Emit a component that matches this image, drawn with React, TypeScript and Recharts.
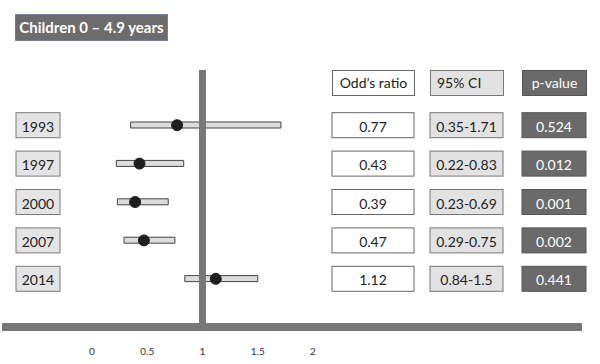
import { ComposedChart, Bar, Line, XAxis, YAxis, ReferenceLine } from 'recharts'

const years = ['1993', '1997', '2000', '2007', '2014']
const oddsRatios = [0.77, 0.43, 0.39, 0.47, 1.12]
const ciLow = [0.35, 0.22, 0.23, 0.29, 0.84]
const ciHigh = [1.71, 0.83, 0.69, 0.75, 1.5]
const pValues = [0.524, 0.012, 0.001, 0.002, 0.441]
const xTicks = [0, 0.5, 1, 1.5, 2]
const headers = ['Odd\u2019s ratio', '95% CI', 'p-value']
const title = 'Children 0 \u2013 4.9 years'

const data = years.map((year, i) => ({
  year,
  or: oddsRatios[i],
  ci: [ciLow[i], ciHigh[i]],
}))

const FONT = 'Lato, "Open Sans", sans-serif'

// table columns: left edge, width, fill, stroke, text colour
const cols = [
  { x: 332, w: 82, fill: '#ffffff', stroke: '#666', color: '#222' },
  { x: 430, w: 73, fill: '#e2e2e2', stroke: '#777', color: '#222' },
  { x: 522, w: 64, fill: '#6a6a6a', stroke: '#555', color: '#fff' },
]

function YearTick({ y, payload }: any) {
  return (
    <g>
      <rect x={16} y={y - 12.5} width={44} height={25} fill="#e4e4e4" stroke="#7a7a7a" />
      <text x={38} y={y + 1} textAnchor="middle" dominantBaseline="central" fontSize={14} fill="#222" fontFamily={FONT}>
        {payload.value}
      </text>
    </g>
  )
}

function TableTick({ y, index }: any) {
  const cells = [String(oddsRatios[index]), `${ciLow[index]}-${ciHigh[index]}`, String(pValues[index])]
  return (
    <g>
      {cols.map((c, k) => (
        <g key={k}>
          <rect x={c.x} y={y - 12.5} width={c.w} height={25} fill={c.fill} stroke={c.stroke} />
          <text x={c.x + c.w / 2} y={y + 1} textAnchor="middle" dominantBaseline="central" fontSize={14} fill={c.color} fontFamily={FONT}>
            {cells[k]}
          </text>
        </g>
      ))}
    </g>
  )
}

function XTick({ x, y, payload }: any) {
  return (
    <text x={x} y={y + 21} textAnchor="middle" fontSize={10} style={{ fill: '#333' }} fontFamily={FONT}>
      {payload.value}
    </text>
  )
}

export default function App() {
  return (
    <div style={{ position: 'absolute', left: 0, top: 0, width: 600, height: 364, background: '#fff', fontFamily: FONT }}>
      {/* title */}
      <div
        style={{
          position: 'absolute', left: 15, top: 14, width: 151, height: 25,
          background: '#6c6c6c', border: '1px solid #6b7fb8', color: '#fff',
          fontWeight: 700, fontSize: 15, lineHeight: '25px', textAlign: 'center',
        }}
      >
        {title}
      </div>

      {/* header row */}
      {headers.map((h, k) => (
        <div
          key={h}
          style={{
            position: 'absolute', left: cols[k].x, top: 70, width: cols[k].w - 1 - (k === 1 ? 6 : 0), height: 24,
            background: cols[k].fill, border: `1px solid ${cols[k].stroke}`, color: cols[k].color,
            fontSize: 14, lineHeight: '24px', textAlign: k === 1 ? 'left' : 'center',
            paddingLeft: k === 1 ? 6 : 0, boxSizing: 'content-box',
          }}
        >
          {h}
        </div>
      ))}

      {/* baseline */}
      <div style={{ position: 'absolute', left: 2, top: 323, width: 580, height: 8, background: '#777' }} />

      <div style={{ position: 'absolute', left: 0, top: 0 }}>
        <ComposedChart
          width={600}
          height={364}
          data={data}
          layout="vertical"
          margin={{ top: 70, right: 0, bottom: 8, left: 0 }}
        >
          <XAxis
            type="number"
            domain={[0, 2]}
            ticks={xTicks}
            axisLine={false}
            tickLine={false}
            height={30}
            tick={<XTick />}
            interval={0}
          />
          <YAxis
            yAxisId={0}
            type="category"
            dataKey="year"
            width={92}
            axisLine={false}
            tickLine={false}
            padding={{ top: 36, bottom: 28 }}
            tick={<YearTick />}
            interval={0}
          />
          <YAxis
            yAxisId={1}
            orientation="right"
            type="category"
            dataKey="year"
            width={287}
            axisLine={false}
            tickLine={false}
            padding={{ top: 36, bottom: 28 }}
            tick={<TableTick />}
            interval={0}
          />
          <Bar dataKey="ci" yAxisId={0} barSize={6} fill="#dcdcdc" stroke="#444" strokeWidth={1} isAnimationActive={false} />
          <ReferenceLine x={1} yAxisId={0} stroke="#777" strokeWidth={7} />
          <Line
            dataKey="or"
            yAxisId={0}
            stroke="none"
            dot={{ r: 5.5, fill: '#1e1e1e', stroke: '#1e1e1e' }}
            activeDot={false}
            isAnimationActive={false}
          />
        </ComposedChart>
      </div>
    </div>
  )
}
